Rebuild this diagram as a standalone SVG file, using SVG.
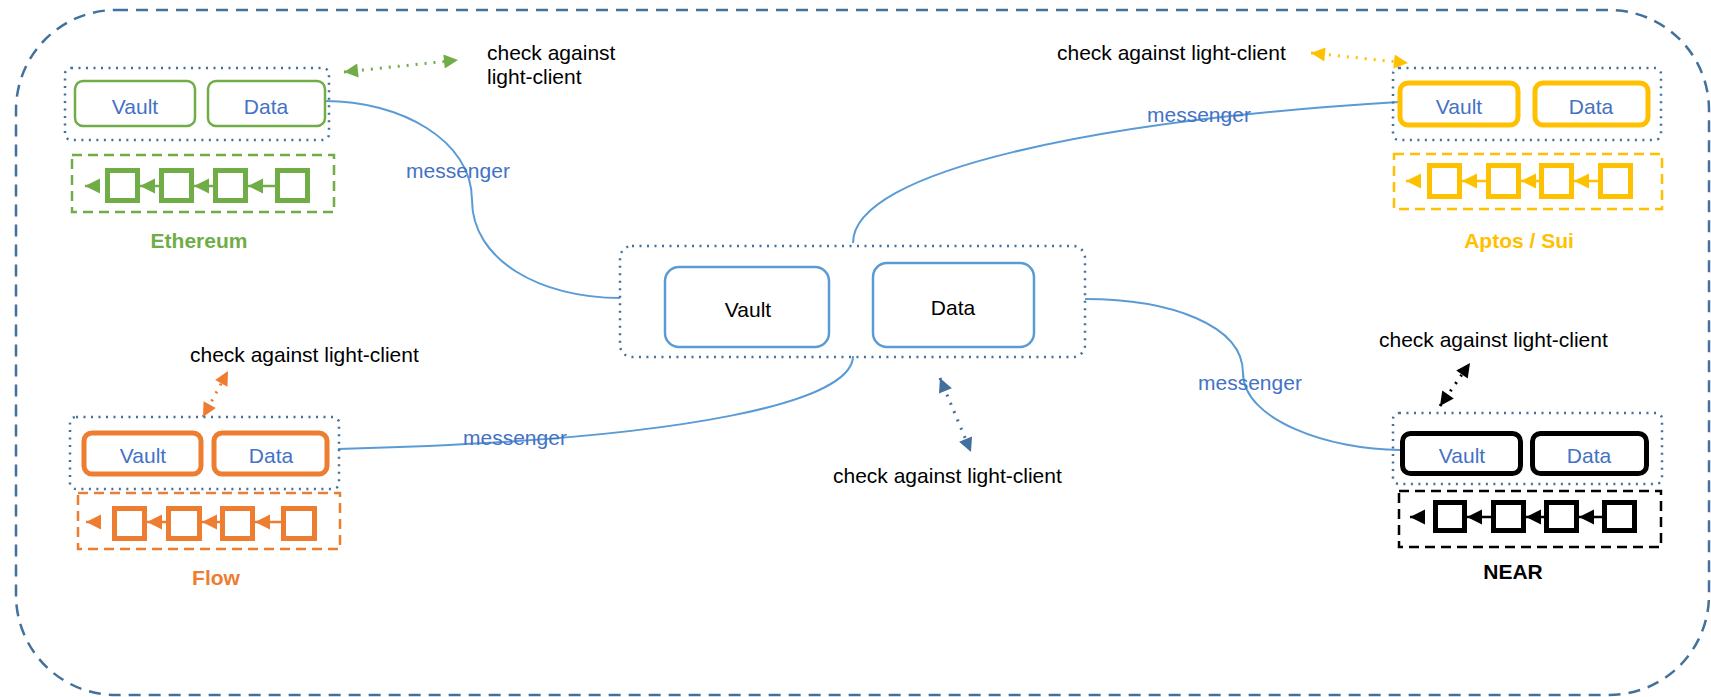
<svg xmlns="http://www.w3.org/2000/svg" width="1711" height="697" viewBox="0 0 1711 697">
<style>
text{font-family:"Liberation Sans",Arial,sans-serif;font-size:21px}
.lbl{fill:#4472C4}
.blk{fill:#000}
.bold{font-weight:bold}
.outer{fill:none;stroke:#41719C;stroke-width:2.5;stroke-dasharray:12 8}
.dot{fill:none;stroke:#41719C;stroke-width:2.5;stroke-dasharray:2 5.5}
.conn{fill:none;stroke:#5B9BD5;stroke-width:2}
.chain{fill:none;stroke-width:2.5;stroke-dasharray:10 6}
.blkbox{fill:#fff;stroke-width:5}
.link{stroke-width:2.5}
.dbl{stroke-width:3;stroke-dasharray:2 7;fill:none}
</style>
<defs>
<marker id="hG" viewBox="0 0 10 10" refX="10" refY="5" markerWidth="15" markerHeight="14" markerUnits="userSpaceOnUse" orient="auto-start-reverse"><path d="M0,0 L10,5 L0,10 z" fill="#70AD47"/></marker>
<marker id="hO" viewBox="0 0 10 10" refX="10" refY="5" markerWidth="15" markerHeight="14" markerUnits="userSpaceOnUse" orient="auto-start-reverse"><path d="M0,0 L10,5 L0,10 z" fill="#ED7D31"/></marker>
<marker id="hY" viewBox="0 0 10 10" refX="10" refY="5" markerWidth="15" markerHeight="14" markerUnits="userSpaceOnUse" orient="auto-start-reverse"><path d="M0,0 L10,5 L0,10 z" fill="#FFC000"/></marker>
<marker id="hK" viewBox="0 0 10 10" refX="10" refY="5" markerWidth="15" markerHeight="14" markerUnits="userSpaceOnUse" orient="auto-start-reverse"><path d="M0,0 L10,5 L0,10 z" fill="#000"/></marker>
<marker id="hB" viewBox="0 0 10 10" refX="10" refY="5" markerWidth="15" markerHeight="14" markerUnits="userSpaceOnUse" orient="auto-start-reverse"><path d="M0,0 L10,5 L0,10 z" fill="#41719C"/></marker>
<marker id="cG" viewBox="0 0 10 10" refX="10" refY="5" markerWidth="15" markerHeight="16" markerUnits="userSpaceOnUse" orient="auto"><path d="M0,0 L10,5 L0,10 z" fill="#70AD47"/></marker>
<marker id="cO" viewBox="0 0 10 10" refX="10" refY="5" markerWidth="15" markerHeight="16" markerUnits="userSpaceOnUse" orient="auto"><path d="M0,0 L10,5 L0,10 z" fill="#ED7D31"/></marker>
<marker id="cY" viewBox="0 0 10 10" refX="10" refY="5" markerWidth="15" markerHeight="16" markerUnits="userSpaceOnUse" orient="auto"><path d="M0,0 L10,5 L0,10 z" fill="#FFC000"/></marker>
<marker id="cK" viewBox="0 0 10 10" refX="10" refY="5" markerWidth="15" markerHeight="16" markerUnits="userSpaceOnUse" orient="auto"><path d="M0,0 L10,5 L0,10 z" fill="#000"/></marker>
</defs>
<rect width="1711" height="697" fill="#fff"/>
<rect id="frame" class="outer" x="16" y="10" width="1693" height="685" rx="100"/>

<g id="connectors">
<path class="conn" d="M325,101 C400,101 472,140 472,200 C472,260 540,298 620,298"/>
<path class="conn" d="M853,243 C853,170 1100,120 1399,102"/>
<path class="conn" d="M853,356 C853,400 700,440 338,449"/>
<path class="conn" d="M1085,299 C1170,299 1243,325 1243,373 C1243,420 1330,450 1400,450"/>
<line class="dbl" x1="344" y1="72" x2="458" y2="60" stroke="#70AD47" marker-start="url(#hG)" marker-end="url(#hG)"/>
<line class="dbl" x1="1311" y1="53" x2="1408" y2="63" stroke="#FFC000" marker-start="url(#hY)" marker-end="url(#hY)"/>
<line class="dbl" x1="203" y1="417" x2="228" y2="371" stroke="#ED7D31" marker-start="url(#hO)" marker-end="url(#hO)"/>
<line class="dbl" x1="940" y1="378" x2="971" y2="452" stroke="#41719C" marker-start="url(#hB)" marker-end="url(#hB)"/>
<line class="dbl" x1="1440" y1="406" x2="1470" y2="363" stroke="#000" marker-start="url(#hK)" marker-end="url(#hK)"/>
<text class="lbl" x="406" y="178">messenger</text>
<text class="lbl" x="1147" y="122">messenger</text>
<text class="lbl" x="463" y="445">messenger</text>
<text class="lbl" x="1198" y="390">messenger</text>
</g>

<g id="note-eth"><text class="blk" x="487" y="60">check against</text><text class="blk" x="487" y="84">light-client</text></g>
<g id="note-aptos"><text class="blk" x="1057" y="60">check against light-client</text></g>
<g id="note-flow"><text class="blk" x="190" y="362">check against light-client</text></g>
<g id="note-center"><text class="blk" x="833" y="483">check against light-client</text></g>
<g id="note-near"><text class="blk" x="1379" y="347">check against light-client</text></g>

<g id="center">
<rect class="dot" x="620" y="246" width="465" height="111" rx="12"/>
<rect x="665" y="267" width="164" height="80" rx="14" fill="#fff" stroke="#5B9BD5" stroke-width="2.5"/>
<rect x="873" y="263" width="161" height="84" rx="14" fill="#fff" stroke="#5B9BD5" stroke-width="2.5"/>
<text class="blk" x="748" y="317" text-anchor="middle">Vault</text>
<text class="blk" x="953" y="315" text-anchor="middle">Data</text>
</g>

<g id="ethereum">
<rect class="dot" x="65" y="68" width="264" height="72" rx="6"/>
<rect x="75" y="81" width="120" height="45" rx="8" fill="#fff" stroke="#70AD47" stroke-width="2.5"/>
<rect x="208" y="81" width="117" height="45" rx="8" fill="#fff" stroke="#70AD47" stroke-width="2.5"/>
<text class="lbl" x="135" y="114" text-anchor="middle">Vault</text>
<text class="lbl" x="266" y="114" text-anchor="middle">Data</text>
<rect class="chain" x="72" y="155" width="262" height="57" stroke="#70AD47"/>
<g stroke="#70AD47">
<line class="link" x1="100" y1="186" x2="85" y2="186" marker-end="url(#cG)"/>
<line class="link" x1="159" y1="186" x2="140" y2="186" marker-end="url(#cG)"/>
<line class="link" x1="213" y1="186" x2="194" y2="186" marker-end="url(#cG)"/>
<line class="link" x1="275" y1="186" x2="248" y2="186" marker-end="url(#cG)"/>
<rect class="blkbox" x="107.5" y="170.5" width="30" height="30"/>
<rect class="blkbox" x="161.5" y="170.5" width="30" height="30"/>
<rect class="blkbox" x="215.5" y="170.5" width="30" height="30"/>
<rect class="blkbox" x="277.5" y="170.5" width="30" height="30"/>
</g>
<text class="bold" x="199" y="248" text-anchor="middle" fill="#70AD47">Ethereum</text>
</g>

<g id="aptos">
<rect class="dot" x="1393" y="68" width="268" height="72" rx="6"/>
<rect x="1400" y="83" width="118" height="42" rx="8" fill="#fff" stroke="#FFC000" stroke-width="5"/>
<rect x="1535" y="83" width="113" height="42" rx="8" fill="#fff" stroke="#FFC000" stroke-width="5"/>
<text class="lbl" x="1459" y="114" text-anchor="middle">Vault</text>
<text class="lbl" x="1591" y="114" text-anchor="middle">Data</text>
<rect class="chain" x="1394" y="154" width="268" height="55" stroke="#FFC000"/>
<g stroke="#FFC000">
<line class="link" x1="1421" y1="181" x2="1406" y2="181" marker-end="url(#cY)"/>
<line class="link" x1="1486" y1="181" x2="1462" y2="181" marker-end="url(#cY)"/>
<line class="link" x1="1539" y1="181" x2="1521" y2="181" marker-end="url(#cY)"/>
<line class="link" x1="1598" y1="181" x2="1574" y2="181" marker-end="url(#cY)"/>
<rect class="blkbox" x="1429.5" y="165.5" width="30" height="31"/>
<rect class="blkbox" x="1488.5" y="165.5" width="30" height="31"/>
<rect class="blkbox" x="1541.5" y="165.5" width="30" height="31"/>
<rect class="blkbox" x="1600.5" y="165.5" width="30" height="31"/>
</g>
<text class="bold" x="1519" y="248" text-anchor="middle" fill="#FFC000">Aptos / Sui</text>
</g>

<g id="flow">
<rect class="dot" x="70" y="417" width="269" height="72" rx="6"/>
<rect x="84" y="433" width="117" height="41" rx="8" fill="#fff" stroke="#ED7D31" stroke-width="5"/>
<rect x="214" y="433" width="113" height="41" rx="8" fill="#fff" stroke="#ED7D31" stroke-width="5"/>
<text class="lbl" x="143" y="463" text-anchor="middle">Vault</text>
<text class="lbl" x="271" y="463" text-anchor="middle">Data</text>
<rect class="chain" x="78" y="493" width="262" height="56" stroke="#ED7D31"/>
<g stroke="#ED7D31">
<line class="link" x1="101" y1="522" x2="86" y2="522" marker-end="url(#cO)"/>
<line class="link" x1="166" y1="522" x2="147" y2="522" marker-end="url(#cO)"/>
<line class="link" x1="220" y1="522" x2="202" y2="522" marker-end="url(#cO)"/>
<line class="link" x1="281" y1="522" x2="255" y2="522" marker-end="url(#cO)"/>
<rect class="blkbox" x="114.5" y="508.5" width="30" height="30"/>
<rect class="blkbox" x="168.5" y="508.5" width="31" height="30"/>
<rect class="blkbox" x="222.5" y="508.5" width="30" height="30"/>
<rect class="blkbox" x="283.5" y="508.5" width="31" height="30"/>
</g>
<text class="bold" x="216" y="585" text-anchor="middle" fill="#ED7D31">Flow</text>
</g>

<g id="near">
<rect class="dot" x="1393" y="413" width="269" height="71" rx="6"/>
<rect x="1402.5" y="433.5" width="118" height="40" rx="8" fill="#fff" stroke="#000" stroke-width="5"/>
<rect x="1532.5" y="433.5" width="114" height="40" rx="8" fill="#fff" stroke="#000" stroke-width="5"/>
<text class="lbl" x="1462" y="463" text-anchor="middle">Vault</text>
<text class="lbl" x="1589" y="463" text-anchor="middle">Data</text>
<rect class="chain" x="1399" y="491" width="262" height="56" stroke="#000"/>
<g stroke="#000">
<line class="link" x1="1425" y1="517" x2="1410" y2="517" marker-end="url(#cK)"/>
<line class="link" x1="1491" y1="517" x2="1467" y2="517" marker-end="url(#cK)"/>
<line class="link" x1="1544" y1="517" x2="1526" y2="517" marker-end="url(#cK)"/>
<line class="link" x1="1602" y1="517" x2="1579" y2="517" marker-end="url(#cK)"/>
<rect class="blkbox" x="1435.5" y="502.5" width="29" height="28"/>
<rect class="blkbox" x="1493.5" y="502.5" width="30" height="28"/>
<rect class="blkbox" x="1546.5" y="502.5" width="30" height="28"/>
<rect class="blkbox" x="1604.5" y="502.5" width="30" height="28"/>
</g>
<text class="bold" x="1513" y="579" text-anchor="middle" fill="#000">NEAR</text>
</g>
</svg>
